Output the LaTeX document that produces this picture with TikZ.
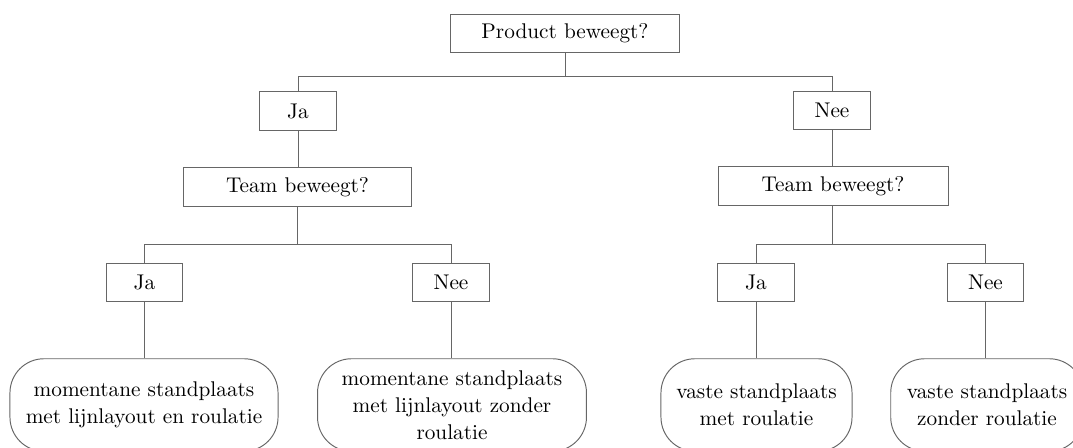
\documentclass[tikz,border=0pt]{standalone}
\usetikzlibrary{calc}
\begin{document}
\begin{tikzpicture}[x=0.47pt,y=-0.47pt,
  line/.style={draw=black!60,line width=0.45pt},
  qbox/.style={line,rectangle,inner sep=0pt,minimum height=18.2pt,align=center},
  abox/.style={line,rectangle,inner sep=0pt,minimum width=35.9pt,minimum height=18.2pt},
  leaf/.style={line,rectangle,rounded corners=16pt,inner sep=0pt,minimum height=43.5pt,
    align=center,font=\fontsize{10}{12.8}\selectfont}]
\useasboundingbox (0,0) rectangle (1073,447);

% decision boxes
\node[qbox,minimum width=107.2pt] (root) at (565,33.5) {Product beweegt?};
\node[abox] (ja1)  at (298,111) {Ja};
\node[abox] (nee1) at (832,110.5) {Nee};
\node[qbox,minimum width=107.6pt] (teamL) at (297.5,187) {Team beweegt?};
\node[qbox,minimum width=108.1pt] (teamR) at (833,186) {Team beweegt?};
\node[abox] (jaL)  at (144.5,282.5) {Ja};
\node[abox] (neeL) at (451,282.5) {Nee};
\node[abox] (jaR)  at (756,282.5) {Ja};
\node[abox] (neeR) at (985.5,282.5) {Nee};

% outcomes
\node[leaf,minimum width=126pt] (l1) at (144,405) {momentane standplaats\\met lijnlayout en roulatie};
\node[leaf,minimum width=126.4pt] (l2) at (452,405) {momentane standplaats\\met lijnlayout zonder\\roulatie};
\node[leaf,minimum width=89.8pt] (l3) at (756.5,405) {vaste standplaats\\met roulatie};
\node[leaf,minimum width=90.5pt] (l4) at (987,405) {vaste standplaats\\zonder roulatie};

% branch levels
\coordinate (bar1) at (0,76);
\coordinate (barL) at (0,244);
\coordinate (barR) at (0,244);

% connectors
\draw[line] (root.south) -- (root.south |- bar1) -| (ja1.north);
\draw[line] (root.south |- bar1) -| (nee1.north);
\draw[line] (ja1.south) -- (ja1.south |- teamL.north);
\draw[line] (nee1.south) -- (nee1.south |- teamR.north);
\draw[line] (teamL.south) -- (teamL.south |- barL) -| (jaL.north);
\draw[line] (teamL.south |- barL) -| (neeL.north);
\draw[line] (nee1.south |- teamR.south) -- (nee1.south |- barR) -| (jaR.north);
\draw[line] (nee1.south |- barR) -| (neeR.north);
\draw[line] (jaL.south) -- (jaL.south |- l1.north);
\draw[line] (neeL.south) -- (neeL.south |- l2.north);
\draw[line] (jaR.south) -- (jaR.south |- l3.north);
\draw[line] (neeR.south) -- (neeR.south |- l4.north);
\end{tikzpicture}
\end{document}
